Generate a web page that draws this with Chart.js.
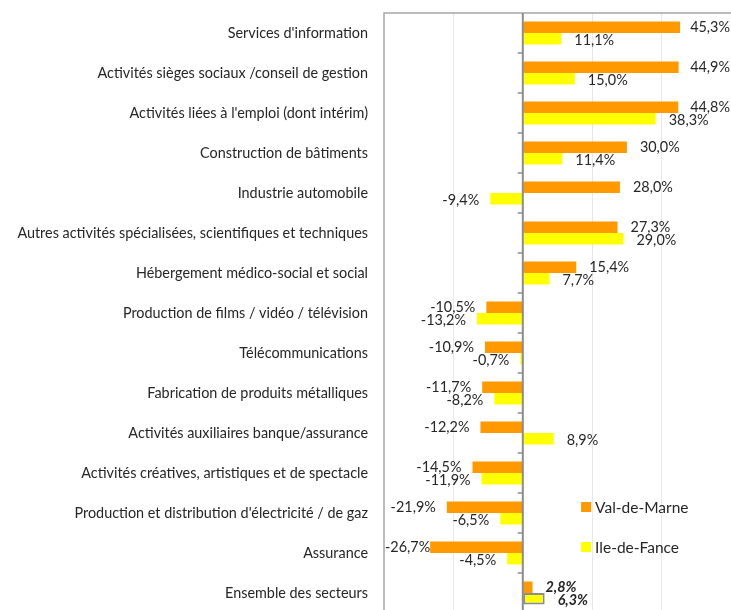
<!DOCTYPE html>
<html>
<head>
<meta charset="utf-8">
<script src="https://cdn.jsdelivr.net/npm/chart.js@4/dist/chart.umd.min.js"></script>
<style>
  html, body { margin: 0; padding: 0; background: #fff; overflow: hidden; }
  #wrap { position: relative; width: 731px; height: 620px; }
</style>
</head>
<body>
<div id="wrap"><canvas id="secteurs"></canvas></div>
<script>
const categories = [
  "Services d'information",
  "Activités sièges sociaux /conseil de gestion",
  "Activités liées à l'emploi (dont intérim)",
  "Construction de bâtiments",
  "Industrie automobile",
  "Autres activités spécialisées, scientifiques et techniques",
  "Hébergement médico-social et social",
  "Production de films / vidéo / télévision",
  "Télécommunications",
  "Fabrication de produits métalliques",
  "Activités auxiliaires banque/assurance",
  "Activités créatives, artistiques et de spectacle",
  "Production et distribution d'électricité / de gaz",
  "Assurance",
  "Ensemble des secteurs"
];
const valDeMarne = [45.3, 44.9, 44.8, 30.0, 28.0, 27.3, 15.4, -10.5, -10.9, -11.7, -12.2, -14.5, -21.9, -26.7, 2.8];
const ileDeFrance = [11.1, 15.0, 38.3, 11.4, -9.4, 29.0, 7.7, -13.2, -0.7, -8.2, 8.9, -11.9, -6.5, -4.5, 6.3];
const seriesNames = ["Val-de-Marne", "Ile-de-Fance"];

const FONT = "Lato, 'Open Sans', sans-serif";
const lastIdx = categories.length - 1;

const fmt = v => v.toFixed(1).replace(".", ",") + "%";

// labels, borders, zero-axis ticks and legend drawn by hand (like Excel)
const excelLook = {
  id: "excelLook",
  beforeDatasetsDraw(chart) {
    const { ctx, chartArea: a } = chart;
    ctx.save();
    ctx.strokeStyle = "#a6a6a6";
    ctx.lineWidth = 1.5;
    ctx.beginPath();
    ctx.moveTo(a.left, a.bottom + 5);
    ctx.lineTo(a.left, a.top);
    ctx.lineTo(a.right + 2, a.top);
    ctx.stroke();
    ctx.restore();
  },
  afterDatasetsDraw(chart) {
    const { ctx, chartArea: a, scales: { x, y } } = chart;
    const x0 = x.getPixelForValue(0);
    ctx.save();
    // zero axis + tick marks
    ctx.strokeStyle = "#8c8c8c";
    ctx.lineWidth = 2;
    ctx.beginPath();
    ctx.moveTo(x0, a.top);
    ctx.lineTo(x0, a.bottom + 5);
    ctx.stroke();
    ctx.lineWidth = 1.5;
    for (let i = 1; i < categories.length; i++) {
      const yy = (y.getPixelForValue(i - 1) + y.getPixelForValue(i)) / 2;
      ctx.beginPath();
      ctx.moveTo(x0 - 5, yy);
      ctx.lineTo(x0, yy);
      ctx.stroke();
    }
    // data labels
    ctx.fillStyle = "#262626";
    ctx.textBaseline = "middle";
    chart.data.datasets.forEach((ds, di) => {
      const meta = chart.getDatasetMeta(di);
      meta.data.forEach((bar, i) => {
        const v = ds.data[i];
        const txt = fmt(v);
        ctx.font = (i === lastIdx ? "italic bold " : "") + "14.4px " + FONT;
        const w = ctx.measureText(txt).width;
        let tx;
        if (v >= 0) {
          tx = Math.min(bar.x + 13, a.right - w - 1);
        } else {
          tx = Math.max(bar.x - 11 - w, a.left + 1);
        }
        ctx.textAlign = "left";
        ctx.fillText(txt, tx, bar.y + (di === 0 ? 0 : 2));
      });
    });
    // legend inside plot
    ctx.font = "15.5px " + FONT;
    const lx = x.getPixelForValue(16.8);
    chart.data.datasets.forEach((ds, di) => {
      const ly = y.getPixelForValue(12 + di) - 6;
      ctx.fillStyle = ds.backgroundColor;
      ctx.fillRect(lx, ly - 5, 10, 10);
      ctx.fillStyle = "#262626";
      ctx.fillText(ds.label, lx + 14, ly + 1);
    });
    ctx.restore();
  }
};

new Chart("secteurs", {
  type: "bar",
  data: {
    labels: categories,
    datasets: [
      {
        label: seriesNames[0],
        data: valDeMarne,
        backgroundColor: "#ff9900",
        borderWidth: 0
      },
      {
        label: seriesNames[1],
        data: ileDeFrance,
        backgroundColor: "#ffff00",
        borderColor: categories.map((c, i) => i === lastIdx ? "#8c8c8c" : "rgba(0,0,0,0)"),
        borderWidth: categories.map((c, i) => i === lastIdx ? 2 : 0),
        borderSkipped: false
      }
    ]
  },
  options: {
    indexAxis: "y",
    responsive: true,
    maintainAspectRatio: false,
    animation: false,
    layout: { padding: { top: 13, bottom: 7, right: 0, left: 0 } },
    categoryPercentage: 0.575,
    barPercentage: 1,
    plugins: {
      legend: { display: false },
      tooltip: { enabled: false }
    },
    scales: {
      x: {
        min: -40,
        max: 60,
        ticks: { display: false, stepSize: 20 },
        border: { display: false },
        grid: {
          drawTicks: false,
          color: ctx => (ctx.tick && (ctx.tick.value === 0 || ctx.tick.value === -40 || ctx.tick.value === 60)) ? "rgba(0,0,0,0)" : "#e8e8e8",
          lineWidth: 1
        },
        afterFit: s => { s.height = 0; s.paddingLeft = 0; s.paddingRight = 0; }
      },
      y: {
        grid: { display: false },
        border: { display: false },
        ticks: {
          padding: 8,
          color: "#262626",
          font: { family: FONT, size: 14.4 },
          autoSkip: false
        },
        afterFit: s => { s.width = 384; s.paddingTop = 0; s.paddingBottom = 0; }
      }
    }
  },
  plugins: [excelLook]
});
</script>
</body>
</html>
